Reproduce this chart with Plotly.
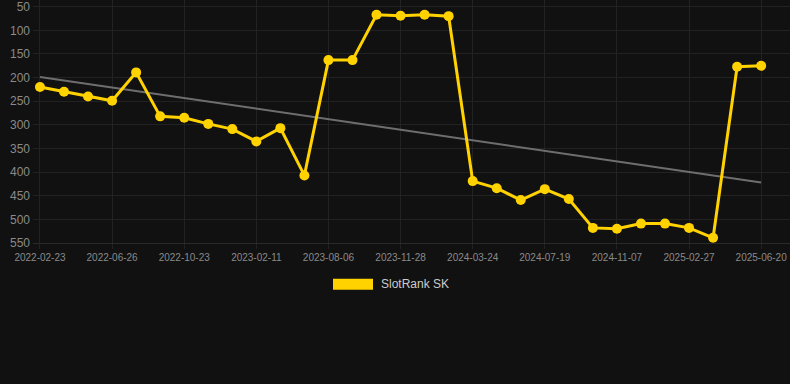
import numpy as np
import plotly.graph_objects as go

dates = [
    "2022-02-23", "2022-03-30", "2022-05-12", "2022-06-26", "2022-08-04", "2022-09-15",
    "2022-10-23", "2022-11-30", "2023-01-05", "2023-02-11", "2023-04-10", "2023-06-08",
    "2023-08-06", "2023-09-12", "2023-10-20", "2023-11-28", "2024-01-04", "2024-02-15",
    "2024-03-24", "2024-05-02", "2024-06-10", "2024-07-19", "2024-08-28", "2024-10-01",
    "2024-11-07", "2024-12-20", "2025-01-24", "2025-02-27", "2025-04-05", "2025-05-12",
    "2025-06-20",
]
ranks = [
    220, 230, 240, 249, 189, 282, 285, 298, 309, 335, 307, 407, 163, 163, 67, 69,
    67, 70, 419, 434, 459, 436, 457, 518, 520, 509, 509, 518, 539, 177, 175,
]
y_ticks = [50, 100, 150, 200, 250, 300, 350, 400, 450, 500, 550]
series_name = "SlotRank SK"

idx = np.arange(len(ranks))
coef = np.polyfit(idx, ranks, 1)
trend = np.polyval(coef, idx)

W, H = 790, 384
L, R, T, B = 33, 0, 0, 140.7
pw, ph = W - L - R, H - T - B

def px(xp):
    return (xp - L) / pw

def py(yp):
    return (H - B - yp) / ph

yellow = "#FFD200"
fig = go.Figure()
fig.add_trace(go.Scatter(
    x=idx, y=trend, mode="lines",
    line=dict(color="#6e6e6e", width=2), hoverinfo="skip", showlegend=False,
))
fig.add_trace(go.Scatter(
    x=idx, y=ranks, mode="lines+markers", name=series_name,
    line=dict(color=yellow, width=3),
    marker=dict(color=yellow, size=10),
    showlegend=False,
))

tick_idx = list(range(0, len(dates), 3))
fig.update_layout(
    width=W, height=H,
    margin=dict(l=L, r=R, t=T, b=B),
    paper_bgcolor="#111111", plot_bgcolor="#111111",
    font=dict(family="Arial, Liberation Sans, sans-serif", color="#8a8a8a"),
    xaxis=dict(
        range=[-0.29, 31.2],
        tickvals=tick_idx, ticktext=[dates[i] for i in tick_idx],
        tickfont=dict(size=10, color="#8a8a8a"),
        showgrid=True, gridcolor="#222222", gridwidth=1,
        zeroline=False, showline=True, linecolor="#2a2a2a", linewidth=1,
        ticks="outside", ticklen=5, tickcolor="#222222",
        ticklabeloverflow="allow",
    ),
    yaxis=dict(
        range=[550, 35.8],
        tickvals=y_ticks,
        tickfont=dict(size=12, color="#8a8a8a"),
        showgrid=True, gridcolor="#222222", gridwidth=1,
        zeroline=False, showline=False, ticks="", ticklabelstandoff=2,
        ticklabeloverflow="allow",
    ),
    shapes=[dict(
        type="rect", xref="paper", yref="paper",
        x0=px(333), x1=px(373), y0=py(290), y1=py(279),
        fillcolor=yellow, line=dict(width=0),
    )],
    annotations=[dict(
        text=series_name, xref="paper", yref="paper",
        x=px(379), y=py(284.5), xanchor="left", yanchor="middle",
        showarrow=False, font=dict(size=12, color="#cccccc"),
    )],
)

fig.write_html("out.html")
